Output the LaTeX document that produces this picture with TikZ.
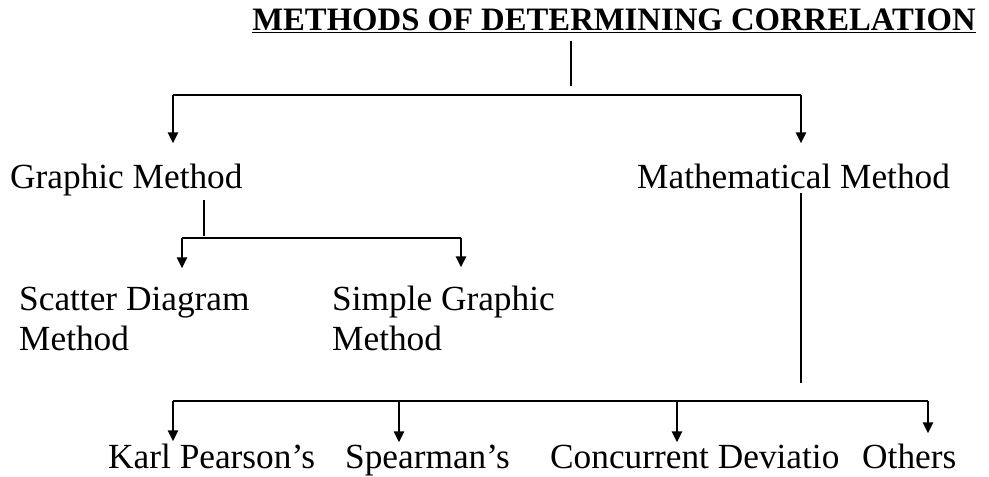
\documentclass[tikz,border=0pt]{standalone}
\usepackage{fontspec}
\setmainfont{Liberation Serif}
\usetikzlibrary{arrows.meta}
\tikzset{
  heading/.style = {inner sep=0pt, anchor=base, font=\fontsize{32.7}{38}\selectfont\bfseries},
  item/.style    = {inner sep=0pt, anchor=base west, align=left, font=\fontsize{35.3}{40}\selectfont},
  branch/.style  = {line width=2.4pt, black},
  pointer/.style = {branch, -{Triangle[width=10pt,length=11pt]}},
}

\begin{document}
\begin{tikzpicture}[x=1pt,y=-1pt]
    \useasboundingbox (0,0) rectangle (989,477);

    % Title
    \node[heading] (title) at (614,30) {\underline{METHODS OF DETERMINING CORRELATION}};

    % first level
    \node[item] (graphic) at (10,188) {Graphic Method};
    \node[item] (maths) at (637,188) {Mathematical Method};

    % graphic methods (base = last line)
    \node[item] (scatter) at (19,350) {Scatter Diagram\\Method};
    \node[item] (simple) at (332,350) {Simple Graphic\\Method};

    % mathematical methods
    \node[item] (karl) at (108,468) {Karl Pearson's};
    \node[item] (spear) at (345,468) {Spearman's};
    \node[item] (concur) at (550,468) {Concurrent Deviatio};
    \node[item] (others) at (862,468) {Others};

    % junctions
    \coordinate (jtop) at (571,86);
    \coordinate (tl) at (173,95);
    \coordinate (tr) at (801,95);
    \coordinate (gj) at (204,236);
    \coordinate (gl) at (182,238);
    \coordinate (gr) at (461,238);
    \coordinate (mj) at (801,383);
    \coordinate (bl) at (173,401);
    \coordinate (bs) at (399,401);
    \coordinate (bc) at (677,401);
    \coordinate (br) at (928,401);

    % top split
    \draw[branch, shorten <=8pt] (title.south -| jtop) -- (jtop);
    \draw[branch] (tl) -- (tr);
    \draw[pointer, shorten >=20pt] (tl) -- (tl |- graphic.north);
    \draw[pointer, shorten >=20pt] (tr) -- (tr |- maths.north);

    % graphic split
    \draw[branch, shorten <=4pt] (graphic.south -| gj) -- (gj);
    \draw[branch] (gl) -- (gr);
    \draw[pointer, shorten >=18pt] (gl) -- (gl |- scatter.north);
    \draw[pointer, shorten >=18pt] (gr) -- (gr |- simple.north);

    % mathematical split
    \draw[branch, shorten <=4pt] (maths.south -| mj) -- (mj);
    \draw[branch] (bl) -- (br);
    \draw[pointer, shorten >=2pt] (bl) -- (bl |- karl.north);
    \draw[pointer, shorten >=2pt] (bs) -- (bs |- spear.north);
    \draw[pointer, shorten >=2pt] (bc) -- (bc |- concur.north);
    \draw[pointer, shorten >=10pt] (br) -- (br |- others.north);
\end{tikzpicture}
\end{document}
